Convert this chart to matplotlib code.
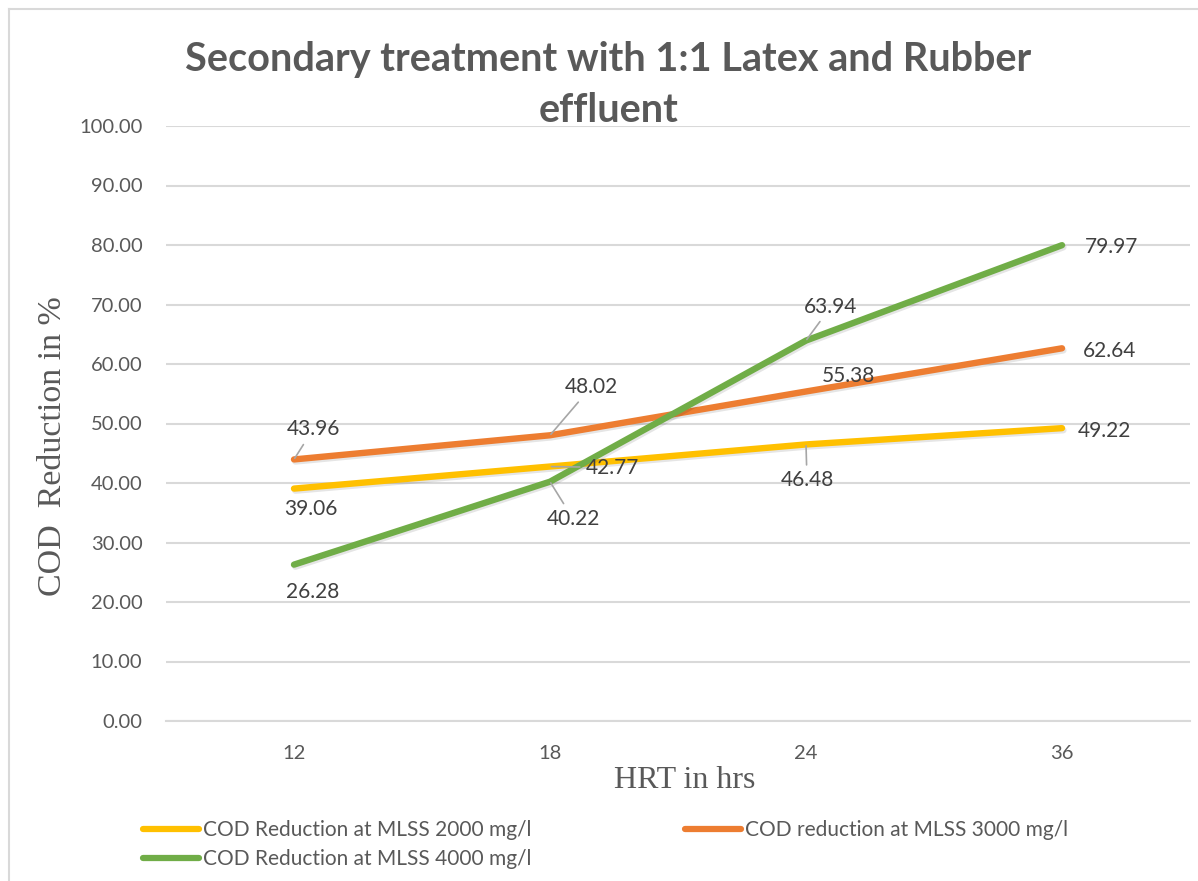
import matplotlib
matplotlib.use("Agg")
import matplotlib.pyplot as plt
from matplotlib.lines import Line2D
import matplotlib.patheffects as pe

categories = ["12", "18", "24", "36"]
s2000 = [39.06, 42.77, 46.48, 49.22]
s3000 = [43.96, 48.02, 55.38, 62.64]
s4000 = [26.28, 40.22, 63.94, 79.97]
names = ["COD Reduction at MLSS 2000 mg/l", "COD reduction at MLSS 3000 mg/l",
         "COD Reduction at MLSS 4000 mg/l"]
colors = ["#FFC000", "#ED7D31", "#70AD47"]
yticks = [0, 10, 20, 30, 40, 50, 60, 70, 80, 90, 100]

W, H = 1198, 881
fig = plt.figure(figsize=(W / 100, H / 100), dpi=100)
ax = fig.add_axes([166 / W, 1 - 721 / H, 1024 / W, 595 / H])

TXT = "#595959"
SANS = ["Lato", "DejaVu Sans"]
SERIF = ["Liberation Serif", "DejaVu Serif"]

x = list(range(len(categories)))
series = [s2000, s3000, s4000]
shadow = [pe.SimpleLineShadow(offset=(1, -1.5), shadow_color="black", alpha=0.1), pe.Normal()]
for vals, c in zip(series, colors):
    ax.plot(x, vals, color=c, lw=4.6, solid_capstyle="round", solid_joinstyle="round",
            path_effects=shadow, zorder=3)

ax.set_xlim(-0.5, len(categories) - 0.5)
ax.set_ylim(0, 100)
ax.set_yticks(yticks)
ax.set_yticklabels([f"{v:.2f}" for v in yticks], fontfamily=SANS, fontsize=14.5, color=TXT)
ax.set_xticks(x)
ax.set_xticklabels(categories, fontfamily=SANS, fontsize=14.5, color=TXT)
ax.tick_params(axis="y", length=0, pad=17)
ax.tick_params(axis="x", length=0, pad=17)
ax.grid(axis="y", color="#D9D9D9", lw=1.5, zorder=0)
ax.set_axisbelow(True)
for s in ["top", "right", "left"]:
    ax.spines[s].set_visible(False)
ax.spines["bottom"].set_color("#D9D9D9")
ax.spines["bottom"].set_linewidth(1.5)

# data labels: (offset px, leader)
label_cfg = [
    [((17, -20), False), ((62, -1), True), ((1, -36), True), ((42, -3), False)],
    [((19, 30), True), ((41, 48), True), ((42, 15), False), ((48, -3), False)],
    [((19, -27), False), ((23, -37), True), ((25, 34), True), ((50, -2), False)],
]
for vals, cfg in zip(series, label_cfg):
    for xi, v, (off, leader) in zip(x, vals, cfg):
        kw = {}
        if leader:
            kw["arrowprops"] = dict(arrowstyle="-", color="#A6A6A6", lw=1.2,
                                    shrinkA=2, shrinkB=1)
        ax.annotate(f"{v:.2f}", xy=(xi, v), xytext=off, textcoords="offset pixels",
                    ha="center", va="center", fontsize=15, fontfamily=SANS,
                    color="#404040", zorder=5, **kw)

ax.set_xlabel("HRT in hrs", fontfamily=SERIF, fontsize=23, color=TXT)
ax.xaxis.set_label_coords((685 - 166) / 1024, -(780 - 721) / 595)
ax.xaxis.label.set_va("center")
ax.set_ylabel("COD  Reduction in %", fontfamily=SERIF, fontsize=24.5, color=TXT)
ax.yaxis.set_label_coords(-(166 - 53) / 1024, (721 - 446) / 595)
ax.yaxis.label.set_va("center")

fig.text(608 / W, 1 - 60 / H, "Secondary treatment with 1:1 Latex and Rubber",
         ha="center", va="center", fontsize=28.5, fontweight="bold", fontfamily=SANS, color=TXT)
fig.text(609 / W, 1 - 110 / H, "effluent",
         ha="center", va="center", fontsize=28.5, fontweight="bold", fontfamily=SANS, color=TXT)

# chart border
fig.add_artist(Line2D([9 / W, 1], [1 - 9 / H, 1 - 9 / H], color="#D9D9D9", lw=1.5))
fig.add_artist(Line2D([9 / W, 9 / W], [0, 1 - 9 / H], color="#D9D9D9", lw=1.5))

handles = [Line2D([], [], color=c, lw=4.5, solid_capstyle="round") for c in colors]
leg_kw = dict(frameon=False, borderpad=0, borderaxespad=0, handlelength=2.7,
              handletextpad=0.2, labelspacing=0.45,
              prop={"family": SANS, "size": 15}, labelcolor=TXT)
fig.legend([handles[0], handles[2]], [names[0], names[2]], loc="upper left",
           bbox_to_anchor=(143 / W, 1 - 820 / H), **leg_kw)
fig.legend([handles[1]], [names[1]], loc="upper left",
           bbox_to_anchor=(685 / W, 1 - 820 / H), **leg_kw)

fig.savefig("out.png", dpi=100)
